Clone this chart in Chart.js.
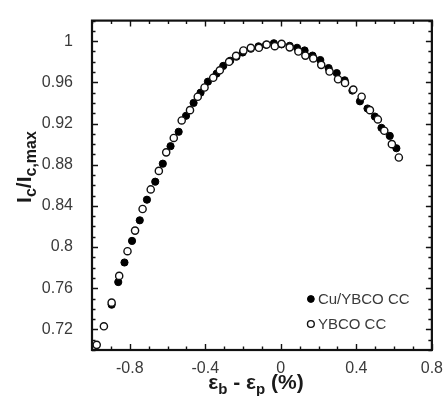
<!DOCTYPE html>
<html>
<head>
<meta charset="utf-8">
<script src="https://cdn.jsdelivr.net/npm/chart.js@4.4.1/dist/chart.umd.min.js"></script>
<style>
	html, body { margin: 0; padding: 0; background: #fff; }
	#wrap { width: 444px; height: 396px; }
</style>
</head>
<body>
<div id="wrap"><canvas id="chart" width="444" height="396"></canvas></div>
<script>
// Cu/YBCO CC (filled circles)
const cuStrain = [-0.896, -0.861, -0.828, -0.788, -0.747, -0.709, -0.665, -0.625, -0.584, -0.541,
	-0.502, -0.462, -0.425, -0.386, -0.340, -0.305, -0.268, -0.235, -0.202, -0.159,
	-0.118, -0.078, -0.037, 0.004, 0.047, 0.086, 0.126, 0.168, 0.209, 0.253,
	0.296, 0.338, 0.379, 0.419, 0.459, 0.498, 0.533, 0.577, 0.612];
const cuIc = [0.744, 0.766, 0.785, 0.806, 0.826, 0.846, 0.8635, 0.881, 0.898, 0.912,
	0.9275, 0.940, 0.950, 0.9607, 0.9685, 0.976, 0.981, 0.985, 0.989, 0.9927,
	0.995, 0.9965, 0.998, 0.997, 0.9955, 0.9936, 0.991, 0.986, 0.9817, 0.9739,
	0.969, 0.962, 0.952, 0.9416, 0.9346, 0.9268, 0.9158, 0.908, 0.896];

// YBCO CC (open circles)
const ybcoStrain = [-0.975, -0.937, -0.896, -0.856, -0.812, -0.772, -0.732, -0.689, -0.646, -0.607,
	-0.567, -0.525, -0.481, -0.440, -0.404, -0.358, -0.323, -0.274, -0.237, -0.198,
	-0.159, -0.116, -0.075, -0.032, 0.004, 0.047, 0.093, 0.130, 0.172, 0.214,
	0.258, 0.303, 0.340, 0.384, 0.428, 0.472, 0.514, 0.548, 0.588, 0.625];
const ybcoIc = [0.705, 0.723, 0.746, 0.772, 0.796, 0.816, 0.837, 0.856, 0.874, 0.892,
	0.906, 0.923, 0.933, 0.946, 0.955, 0.9645, 0.9717, 0.980, 0.9858, 0.991,
	0.9936, 0.9936, 0.9967, 0.9952, 0.9974, 0.994, 0.990, 0.986, 0.9833, 0.977,
	0.9705, 0.963, 0.9595, 0.953, 0.946, 0.933, 0.924, 0.913, 0.900, 0.887];

const seriesNames = ['Cu/YBCO CC', 'YBCO CC'];

const xTickValues = [-0.8, -0.4, 0, 0.4, 0.8];
const xTickLabels = ['-0.8', '-0.4', '0', '0.4', '0.8'];
const yTickValues = [0.72, 0.76, 0.8, 0.84, 0.88, 0.92, 0.96, 1];
const yTickLabels = ['0.72', '0.76', '0.8', '0.84', '0.88', '0.92', '0.96', '1'];

const FONT = "'Liberation Sans', Arial, sans-serif";
const LABEL_COLOR = '#3a3a3a';

function toPoints(xs, ys) {
	return xs.map((x, i) => ({ x: x, y: ys[i] }));
}

function labelFor(values, labels, v) {
	const i = values.findIndex(t => Math.abs(t - v) < 1e-9);
	return i >= 0 ? labels[i] : '';
}

// draws a row of text runs, some of them subscripted, centred on 0
function drawRuns(ctx, runs) {
	let total = 0;
	runs.forEach(r => {
		ctx.font = 'bold ' + r.size + 'px ' + FONT;
		r.w = ctx.measureText(r.text).width;
		total += r.w;
	});
	let cx = -total / 2;
	runs.forEach(r => {
		ctx.font = 'bold ' + r.size + 'px ' + FONT;
		ctx.fillText(r.text, cx, r.sub ? 5 : 0);
		cx += r.w;
	});
}

// box round the plot with inward ticks on every side
const framePlugin = {
	id: 'frame',
	afterDatasetsDraw(chart) {
		const { ctx, chartArea: a, scales } = chart;
		const xs = scales.x, ys = scales.y;
		ctx.save();
		ctx.strokeStyle = '#111';
		ctx.lineWidth = 1.4;
		ctx.beginPath();
		for (let i = -10; i <= 8; i++) {
			const px = Math.round(xs.getPixelForValue(i / 10)) + 0.5;
			const len = (i % 4 === 0) ? 6 : 3.5;
			ctx.moveTo(px, a.bottom); ctx.lineTo(px, a.bottom - len);
			ctx.moveTo(px, a.top); ctx.lineTo(px, a.top + len);
		}
		for (let i = 70; i <= 102; i++) {
			const py = Math.round(ys.getPixelForValue(i / 100)) + 0.5;
			const len = ((i - 72) % 4 === 0) ? 6 : 3.5;
			ctx.moveTo(a.left, py); ctx.lineTo(a.left + len, py);
			ctx.moveTo(a.right, py); ctx.lineTo(a.right - len, py);
		}
		ctx.stroke();
		ctx.lineWidth = 2.2;
		ctx.strokeRect(a.left, a.top, a.right - a.left, a.bottom - a.top);
		ctx.restore();
	}
};

// legend inside the lower right corner, axis titles with subscripts
const labelsPlugin = {
	id: 'labels',
	afterDraw(chart) {
		const { ctx, chartArea: a } = chart;
		ctx.save();

		// legend
		ctx.font = '15px ' + FONT;
		ctx.fillStyle = LABEL_COLOR;
		ctx.textBaseline = 'middle';
		ctx.textAlign = 'left';
		const lx = a.right - 121;
		[a.bottom - 51, a.bottom - 26].forEach((ly, i) => {
			const ds = chart.data.datasets[i];
			ctx.beginPath();
			ctx.arc(lx, ly, 3.4, 0, Math.PI * 2);
			ctx.fillStyle = ds.pointBackgroundColor;
			ctx.fill();
			ctx.lineWidth = ds.pointBorderWidth;
			ctx.strokeStyle = ds.pointBorderColor;
			ctx.stroke();
			ctx.fillStyle = LABEL_COLOR;
			ctx.fillText(seriesNames[i], lx + 7, ly + 1);
		});

		// x title
		ctx.fillStyle = '#1a1a1a';
		ctx.textBaseline = 'alphabetic';
		ctx.textAlign = 'left';
		ctx.save();
		ctx.translate(256, 389);
		drawRuns(ctx, [
			{ text: '\u03b5', size: 21 },
			{ text: 'b', size: 15, sub: true },
			{ text: ' - ', size: 21 },
			{ text: '\u03b5', size: 21 },
			{ text: 'p', size: 15, sub: true },
			{ text: ' (%)', size: 21 }
		]);
		ctx.restore();

		// y title
		ctx.save();
		ctx.translate(31, 167);
		ctx.rotate(-Math.PI / 2);
		drawRuns(ctx, [
			{ text: 'I', size: 21 },
			{ text: 'c', size: 16, sub: true },
			{ text: '/I', size: 21 },
			{ text: 'c,max', size: 16, sub: true }
		]);
		ctx.restore();

		ctx.restore();
	}
};

function initChart() {
	const canvas = document.getElementById('chart');
	const ctx = canvas.getContext('2d');
	if (typeof Chart === 'undefined') {
		console.error('Chart.js is not loaded.');
		return;
	}
	const tickFont = { family: FONT, size: 16 };
	try {
		new Chart(ctx, {
			type: 'scatter',
			data: {
				datasets: [{
					label: seriesNames[0],
					data: toPoints(cuStrain, cuIc),
					pointRadius: 3.6,
					pointBackgroundColor: '#000',
					pointBorderColor: '#000',
					pointBorderWidth: 1,
					order: 1
				}, {
					label: seriesNames[1],
					data: toPoints(ybcoStrain, ybcoIc),
					pointRadius: 3.6,
					pointBackgroundColor: '#fff',
					pointBorderColor: '#111',
					pointBorderWidth: 1.4,
					order: 0
				}]
			},
			options: {
				responsive: false,
				animation: false,
				devicePixelRatio: 1,
				layout: { padding: { top: 11, right: 11, left: 0, bottom: 0 } },
				plugins: {
					legend: { display: false },
					tooltip: { enabled: false }
				},
				scales: {
					x: {
						type: 'linear',
						min: -1.0,
						max: 0.8,
						grid: { display: false },
						border: { display: false },
						afterBuildTicks: s => { s.ticks = xTickValues.map(v => ({ value: v })); },
						afterFit: s => { s.height = 46; },
						ticks: {
							font: tickFont,
							color: LABEL_COLOR,
							padding: 1,
							maxRotation: 0,
							autoSkip: false,
							callback: v => labelFor(xTickValues, xTickLabels, v)
						}
					},
					y: {
						type: 'linear',
						min: 0.70,
						max: 1.02,
						grid: { display: false },
						border: { display: false },
						afterBuildTicks: s => { s.ticks = yTickValues.map(v => ({ value: v })); },
						afterFit: s => { s.width = 92; },
						ticks: {
							font: tickFont,
							color: LABEL_COLOR,
							padding: 11,
							autoSkip: false,
							callback: v => labelFor(yTickValues, yTickLabels, v)
						}
					}
				}
			},
			plugins: [framePlugin, labelsPlugin]
		});
	} catch (error) {
		console.error('Error initializing chart:', error);
	}
}

initChart();
</script>
</body>
</html>
